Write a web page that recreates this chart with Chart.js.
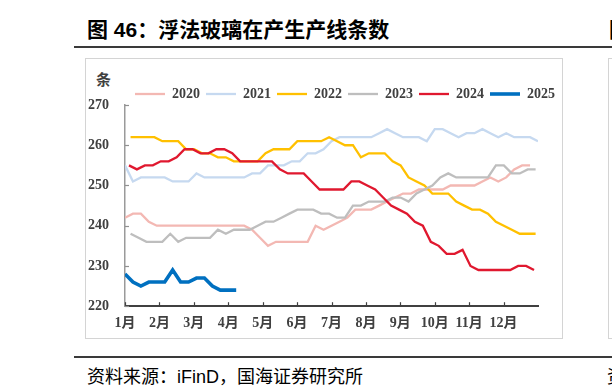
<!DOCTYPE html>
<html lang="zh-CN">
<head>
<meta charset="utf-8">
<title>浮法玻璃在产生产线条数</title>
<script src="https://cdn.jsdelivr.net/npm/chart.js@4.4.1/dist/chart.umd.min.js"></script>
<style>
  html, body { margin: 0; padding: 0; background: #fff; }
  body {
    position: relative; width: 612px; height: 392px; overflow: hidden;
    font-family: "Liberation Sans", "Noto Sans CJK SC", sans-serif;
  }
  .title {
    position: absolute; top: 17px; font-size: 21px; line-height: 26px;
    font-weight: bold; color: #000; white-space: nowrap;
  }
  .rule { position: absolute; left: 74px; width: 560px; height: 2px; background: #3a3a3a; }
  .box { position: absolute; top: 58px; height: 279px; border: 1px solid #d4d4d4; }
  .unit {
    position: absolute; left: 96px; top: 69px; font-size: 15px; line-height: 20px;
    font-weight: bold; color: #404040; font-family: "Noto Sans CJK SC", sans-serif;
  }
  .source {
    position: absolute; top: 366px; font-size: 18px; line-height: 22px;
    color: #000; white-space: nowrap;
  }
  #chartWrap { position: absolute; left: 86px; top: 59px; width: 476px; height: 289px; }
</style>
</head>
<body>

<div class="title" style="left:87px">图 46：浮法玻璃在产生产线条数</div>
<div class="title" style="left:609px">图</div>
<div class="rule" style="top:46px"></div>
<div class="box" style="left:85px; width:476px"></div>
<div class="box" style="left:608px; width:40px"></div>
<div class="unit">条</div>
<div id="chartWrap"><canvas id="glassChart"></canvas></div>
<div class="rule" style="top:356px"></div>
<div class="source" style="left:87px">资料来源：iFinD，国海证券研究所</div>
<div class="source" style="left:607px">资</div>

<script>
/* ---- DATA (weekly counts) ---- */
const monthLabels = ['1月', '2月', '3月', '4月', '5月', '6月', '7月', '8月', '9月', '10月', '11月', '12月'];
const weeksPerYear = 52;
const yTicks = [220, 230, 240, 250, 260, 270];
const years = ['2020', '2021', '2022', '2023', '2024', '2025'];
// first reported week of each year, in weeks after 1 Jan
const startWeek = [0, 0, 0.7, 0.7, 0.5, 0];

const lines2020 = [242, 243, 243, 241, 240, 240, 240, 240, 240, 240,
                   240, 240, 240, 240, 240, 240, 239, 237, 235, 236,
                   236, 236, 236, 236, 240, 239, 240, 241, 242, 244,
                   244, 244, 245, 246, 247, 248, 248, 249, 249, 249,
                   249, 250, 250, 250, 250, 251, 252, 251, 252, 254,
                   255, 255];
const lines2021 = [255, 251, 252, 252, 252, 252, 251, 251, 251, 253,
                   252, 252, 252, 252, 252, 252, 253, 253, 255, 255,
                   255, 256, 256, 258, 258, 259, 261, 262, 262, 262,
                   262, 262, 263, 264, 263, 262, 262, 262, 261, 264,
                   264, 263, 262, 263, 263, 264, 263, 262, 263, 262,
                   262, 262, 261];
const lines2022 = [262, 262, 262, 262, 261, 261, 261, 259, 259, 258,
                   258, 257, 257, 256, 256, 256, 256, 258, 259, 259,
                   259, 261, 261, 261, 261, 262, 261, 260, 260, 257,
                   258, 258, 258, 256, 255, 252, 251, 250, 248, 248,
                   248, 246, 245, 244, 244, 243, 241, 240, 239, 238,
                   238, 238];
const lines2023 = [238, 237, 236, 236, 236, 238, 236, 237, 237, 237,
                   237, 239, 238, 239, 239, 239, 240, 241, 241, 242,
                   243, 244, 244, 244, 243, 243, 242, 242, 245, 245,
                   246, 246, 246, 247, 247, 246, 248, 249, 250, 252,
                   253, 252, 252, 252, 252, 252, 255, 255, 253, 253,
                   254, 254];
const lines2024 = [255, 254, 255, 255, 256, 256, 257, 259, 259, 258,
                   258, 259, 259, 258, 256, 256, 256, 256, 256, 254,
                   253, 253, 253, 251, 249, 249, 249, 249, 251, 251,
                   250, 249, 247, 245, 244, 243, 241, 240, 236, 235,
                   233, 233, 234, 230, 229, 229, 229, 229, 229, 230,
                   230, 229];
const lines2025 = [228, 226, 225, 226, 226, 226, 229, 226, 226, 227,
                   227, 225, 224, 224, 224];

const seriesValues = [lines2020, lines2021, lines2022, lines2023, lines2024, lines2025];
const seriesColors = ['#F3B8B3', '#C6D9F0', '#FFC000', '#BEBEBE', '#E0182F', '#0070C0'];
const seriesWidths = [2.3, 2.3, 2.3, 2.3, 2.3, 3.6];

const AXIS_FONT = { family: "'Liberation Serif', 'Noto Sans CJK SC', serif", size: 14, weight: 'bold' };
const TEXT_GREY = '#404040';

/* ---- short inward tick marks on both axes ---- */
const inwardTicks = {
  id: 'inwardTicks',
  afterDraw(chart) {
    const { ctx, scales: { x, y } } = chart;
    ctx.save();
    ctx.lineWidth = 1.2;
    ctx.strokeStyle = '#404040';
    x.ticks.forEach(t => {
      const px = Math.round(x.getPixelForValue(t.value)) + 0.5;
      ctx.beginPath();
      ctx.moveTo(px, y.bottom);
      ctx.lineTo(px, y.bottom - 4);
      ctx.stroke();
    });
    ctx.strokeStyle = '#909090';
    y.ticks.forEach(t => {
      const py = Math.round(y.getPixelForValue(t.value)) + 0.5;
      ctx.beginPath();
      ctx.moveTo(x.left, py);
      ctx.lineTo(x.left + 4, py);
      ctx.stroke();
    });
    ctx.restore();
  }
};

/* ---- the legend sits just above the plot, left-aligned with it ---- */
const legendPlacement = {
  id: 'legendPlacement',
  afterLayout(chart) {
    const lg = chart.legend;
    const w = lg.right - lg.left;
    lg.left = chart.chartArea.left + 4;
    lg.right = lg.left + w;
    const h = lg.bottom - lg.top;
    lg.top = 22;
    lg.bottom = lg.top + h;
  }
};

/* ---- CHART ---- */
const datasets = years.map((year, s) => ({
  label: year,
  data: seriesValues[s].map((v, i) => ({ x: startWeek[s] + i, y: v })),
  borderColor: seriesColors[s],
  backgroundColor: seriesColors[s],
  borderWidth: seriesWidths[s],
  pointRadius: 0,
  pointHoverRadius: 0,
  tension: 0,
  order: years.length - s   // later years drawn on top
}));

new Chart(document.getElementById('glassChart'), {
  type: 'line',
  data: { datasets: datasets },
  plugins: [inwardTicks, legendPlacement],
  options: {
    responsive: true,
    maintainAspectRatio: false,
    animation: false,
    layout: { padding: { top: 16, right: 24, bottom: 7, left: 0 } },
    plugins: {
      tooltip: { enabled: false },
      legend: {
        position: 'top',
        align: 'start',
        labels: {
          sort: (a, b) => a.datasetIndex - b.datasetIndex,
          usePointStyle: true,
          pointStyle: 'line',
          pointStyleWidth: 30,
          padding: 6,
          color: TEXT_GREY,
          font: AXIS_FONT
        }
      }
    },
    scales: {
      x: {
        type: 'linear',
        min: 0,
        max: weeksPerYear,
        afterBuildTicks: scale => {
          scale.ticks = monthLabels.map((_, m) => ({ value: m * weeksPerYear / monthLabels.length }));
        },
        grid: { display: true, drawOnChartArea: false, drawTicks: false },
        border: { display: true, color: '#404040', width: 2 },
        ticks: {
          autoSkip: false,
          maxRotation: 0,
          padding: 9,
          color: TEXT_GREY,
          font: AXIS_FONT,
          callback: (value, index) => monthLabels[index]
        }
      },
      y: {
        min: yTicks[0],
        max: yTicks[yTicks.length - 1],
        afterBuildTicks: scale => {
          scale.ticks = yTicks.map(v => ({ value: v }));
        },
        afterFit: scale => { scale.width = 39; },
        grid: { display: true, drawOnChartArea: false, drawTicks: false },
        border: { display: true, color: '#9a9a9a', width: 1.5 },
        ticks: {
          padding: 16,
          color: TEXT_GREY,
          font: AXIS_FONT
        }
      }
    }
  }
});
</script>
</body>
</html>
